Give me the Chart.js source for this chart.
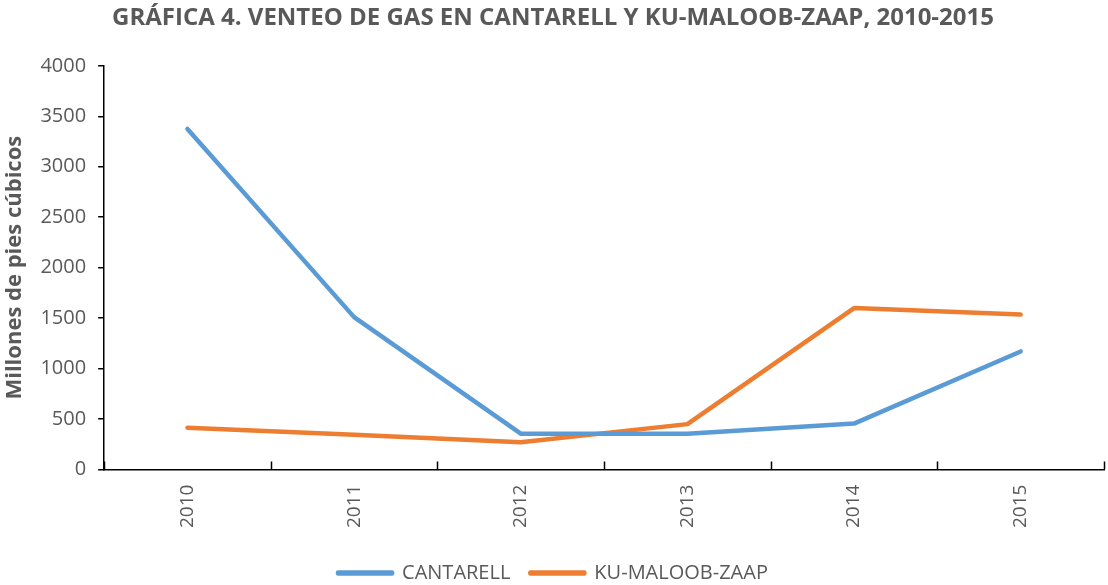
<!DOCTYPE html>
<html>
<head>
<meta charset="utf-8">
<script src="https://cdn.jsdelivr.net/npm/chart.js@4/dist/chart.umd.min.js"></script>
<style>
  html, body { margin: 0; padding: 0; background: #fff; }
  #wrap { width: 1108px; height: 585px; }
</style>
</head>
<body>
<div id="wrap"><canvas id="chart"></canvas></div>
<script>
const years = ["2010", "2011", "2012", "2013", "2014", "2015"];
const cantarell = [3375, 1510, 355, 355, 455, 1170];
const kuMaloobZaap = [415, 345, 270, 450, 1600, 1535];
const yTicks = [0, 500, 1000, 1500, 2000, 2500, 3000, 3500, 4000];

const gris = "#595959";
const fuente = "'Open Sans', sans-serif";

// marcas del eje x hacia dentro, entre categorías
const marcasX = {
  id: "marcasX",
  afterDraw(chart) {
    const x = chart.scales.x;
    const ctx = chart.ctx;
    const paso = x.width / years.length;
    ctx.save();
    ctx.strokeStyle = "#000";
    ctx.lineWidth = 1.5;
    ctx.beginPath();
    for (let i = 0; i <= years.length; i++) {
      const px = Math.round(x.left + i * paso) + 0.5;
      ctx.moveTo(px, x.top);
      ctx.lineTo(px, x.top - 8);
    }
    ctx.stroke();
    ctx.restore();
  }
};

new Chart(document.getElementById("chart"), {
  type: "line",
  data: {
    labels: years,
    datasets: [
      {
        label: "CANTARELL",
        data: cantarell,
        borderColor: "#5B9BD5",
        backgroundColor: "#5B9BD5",
        borderWidth: 4.5,
        pointRadius: 0,
        borderCapStyle: "round",
        borderJoinStyle: "round",
        tension: 0
      },
      {
        label: "KU-MALOOB-ZAAP",
        data: kuMaloobZaap,
        borderColor: "#ED7D31",
        backgroundColor: "#ED7D31",
        borderWidth: 4.5,
        pointRadius: 0,
        borderCapStyle: "round",
        borderJoinStyle: "round",
        tension: 0
      }
    ]
  },
  options: {
    responsive: true,
    maintainAspectRatio: false,
    animation: false,
    layout: { padding: { top: 0, right: 4, bottom: -8, left: 2 } },
    plugins: {
      title: {
        display: true,
        text: "GRÁFICA 4. VENTEO DE GAS EN CANTARELL Y KU-MALOOB-ZAAP, 2010-2015",
        color: gris,
        font: { family: fuente, size: 24, weight: "bold" },
        padding: { top: 4, bottom: 33 }
      },
      legend: {
        position: "bottom",
        labels: {
          color: gris,
          font: { family: fuente, size: 20 },
          boxWidth: 54,
          boxHeight: 1,
          padding: 20
        }
      },
      tooltip: { enabled: false }
    },
    scales: {
      x: {
        offset: true,
        grid: { display: false, drawTicks: false },
        border: { display: true, color: "#000", width: 1.5 },
        ticks: {
          color: gris,
          font: { family: fuente, size: 19 },
          minRotation: 90,
          maxRotation: 90,
          padding: 15
        }
      },
      y: {
        min: 0,
        max: 4000,
        afterBuildTicks(axis) {
          axis.ticks = yTicks.map(v => ({ value: v }));
        },
        grid: { drawOnChartArea: false, tickLength: 6, color: "#000", lineWidth: 1.5 },
        border: { display: true, color: "#000", width: 1.5 },
        ticks: {
          color: gris,
          font: { family: fuente, size: 20 },
          padding: 12,
          callback: v => String(v)
        },
        title: {
          display: true,
          text: "Millones de pies cúbicos",
          color: gris,
          font: { family: fuente, size: 22, weight: "bold" },
          padding: { top: 0, bottom: 0 }
        }
      }
    }
  },
  plugins: [marcasX]
});
</script>
</body>
</html>
